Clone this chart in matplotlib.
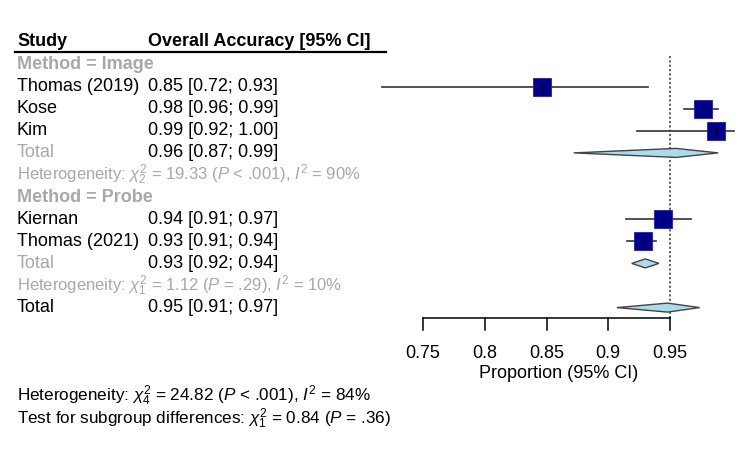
import numpy as np
import matplotlib.pyplot as plt
from matplotlib.patches import Polygon

plt.rcParams["font.family"] = ["Liberation Sans", "DejaVu Sans"]
plt.rcParams["mathtext.fontset"] = "custom"
plt.rcParams["mathtext.rm"] = "Liberation Sans"
plt.rcParams["mathtext.it"] = "Liberation Sans:italic"

# study-level data
studies = ["Thomas (2019)", "Kose", "Kim", "Kiernan", "Thomas (2021)"]
groups = ["Image", "Image", "Image", "Probe", "Probe"]
est = [0.846, 0.977, 0.987, 0.944, 0.928]
ci_lo = [0.717, 0.961, 0.923, 0.914, 0.915]
ci_hi = [0.932, 0.989, 1.002, 0.967, 0.939]
study_labels = ["0.85 [0.72; 0.93]", "0.98 [0.96; 0.99]", "0.99 [0.92; 1.00]",
                "0.94 [0.91; 0.97]", "0.93 [0.91; 0.94]"]

# pooled estimates: Image, Probe, Overall
pooled_names = ["Image", "Probe", "Overall"]
pooled_est = [0.955, 0.930, 0.948]
pooled_lo = [0.872, 0.919, 0.907]
pooled_hi = [0.989, 0.941, 0.974]
pooled_labels = ["0.96 [0.87; 0.99]", "0.93 [0.92; 0.94]", "0.95 [0.91; 0.97]"]

het_image = r"Heterogeneity: $\chi^2_2$ = 19.33 ($P$ < .001), $I^2$ = 90%"
het_probe = r"Heterogeneity: $\chi^2_1$ = 1.12 ($P$ = .29), $I^2$ = 10%"
het_all = r"Heterogeneity: $\chi^2_4$ = 24.82 ($P$ < .001), $I^2$ = 84%"
test_sub = r"Test for subgroup differences: $\chi^2_1$ = 0.84 ($P$ = .36)"

ticks = [0.75, 0.8, 0.85, 0.9, 0.95]
tick_labels = ["0.75", "0.8", "0.85", "0.9", "0.95"]
ref_value = 0.95

GRAY = "#a8a8a8"
NAVY = "#000090"
LIGHT = "#a8dcee"
FS = 13

W, H = 750, 453
fig = plt.figure(figsize=(W / 100, H / 100), dpi=100)
ax_t = fig.add_axes([0, 0, 1, 1])
ax_t.set_xlim(0, W)
ax_t.set_ylim(H, 0)
ax_t.axis("off")

# forest panel: 0.75 -> px 423, 0.95 -> px 670
px_per_unit = (670 - 423) / 0.2
x0_px, x1_px = 370, W
ax_f = fig.add_axes([x0_px / W, 0, (x1_px - x0_px) / W, 1])
ax_f.set_xlim(0.75 - (423 - x0_px) / px_per_unit, 0.75 + (x1_px - 423) / px_per_unit)
ax_f.set_ylim(H, 0)
ax_f.axis("off")

# row layout
row0, dy = 64.5, 22.1
rows = [row0 + dy * i for i in range(12)]
y_group = {"Image": rows[0], "Probe": rows[6]}
y_study = [rows[1], rows[2], rows[3], rows[7], rows[8]]
y_pooled = [rows[4], rows[9], rows[11]]
y_het = [rows[5], rows[10]]

col1, col2 = 17, 148

# header
ax_t.text(col1, 42, "Study", fontsize=FS, fontweight="bold", va="center")
ax_t.text(col2, 42, "Overall Accuracy [95% CI]", fontsize=FS, fontweight="bold", va="center")
ax_t.plot([15, 386], [52, 52], color="black", lw=1.6)

for g, y in y_group.items():
    ax_t.text(col1, y, f"Method = {g}", fontsize=FS, fontweight="bold", color=GRAY, va="center")

for name, lab, y in zip(studies, study_labels, y_study):
    ax_t.text(col1, y, name, fontsize=FS, va="center")
    ax_t.text(col2, y, lab, fontsize=FS, va="center")

for i, (lab, y) in enumerate(zip(pooled_labels, y_pooled)):
    ax_t.text(col1, y, "Total", fontsize=FS, va="center", color=GRAY if i < 2 else "black")
    ax_t.text(col2, y, lab, fontsize=FS, va="center")

for txt, y in zip([het_image, het_probe], y_het):
    ax_t.text(col1, y, txt, fontsize=12, va="center", color=GRAY)

ax_t.text(col1, 396, het_all, fontsize=12.3, va="center")
ax_t.text(col1, 419, test_sub, fontsize=12.3, va="center")

# reference line
ax_f.plot([ref_value, ref_value], [56, 318], color="#555555", lw=1.3, ls=(0, (1.2, 1.2)))

# study CIs and squares
for e, lo, hi, y in zip(est, ci_lo, ci_hi, y_study):
    ax_f.plot([lo, hi], [y, y], color="#333333", lw=1.2, zorder=2)
    ax_f.scatter([e], [y], marker="s", s=150, color=NAVY, edgecolor="#2020b0",
                 linewidth=0.6, zorder=3)
    ax_f.plot([e, e], [y - 4, y + 4], color="black", lw=1.0, zorder=4)

# pooled diamonds
half_h = 4.5
for e, lo, hi, y in zip(pooled_est, pooled_lo, pooled_hi, y_pooled):
    poly = Polygon([(lo, y), (e, y - half_h), (hi, y), (e, y + half_h)], closed=True,
                   facecolor=LIGHT, edgecolor="#444444", lw=1.0, zorder=3)
    ax_f.add_patch(poly)

# x axis
axis_y, tick_len = 318, 12
ax_f.plot([ticks[0], ticks[-1]], [axis_y, axis_y], color="black", lw=1.1)
for t, lab in zip(ticks, tick_labels):
    ax_f.plot([t, t], [axis_y, axis_y + tick_len], color="black", lw=1.1)
    ax_f.text(t, 353, lab, fontsize=FS, ha="center", va="center")
ax_f.text(0.86, 374, "Proportion (95% CI)", fontsize=FS, ha="center", va="center")

fig.savefig("out.png", dpi=100)
